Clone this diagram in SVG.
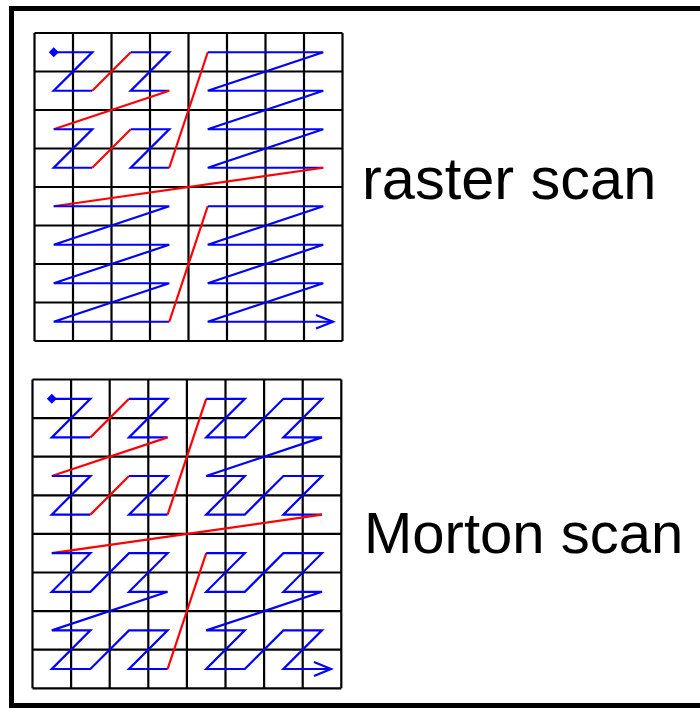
<svg xmlns="http://www.w3.org/2000/svg" width="700" height="708" viewBox="0 0 700 708">
<style>
.frame{fill:none;stroke:#000;stroke-width:5}
.grid{fill:none;stroke:#000;stroke-width:2.2}
.b{fill:none;stroke:#0000ff;stroke-width:2.2;stroke-linejoin:miter}
.r{fill:none;stroke:#ff0000;stroke-width:2.2}
.lbl{font-family:"Liberation Sans",Arial,sans-serif;fill:#000}
</style>
<rect width="700" height="708" fill="#fff"/>
<rect class="frame" x="11.5" y="8.5" width="700" height="697"/>
<g id="raster-grid">
<path class="grid" d="M34.5,33V341M73,33V341M111.5,33V341M150,33V341M188.5,33V341M227,33V341M265.5,33V341M304,33V341M342.5,33V341M34.5,33H342.5M34.5,71.5H342.5M34.5,110H342.5M34.5,148.5H342.5M34.5,187H342.5M34.5,225.5H342.5M34.5,264H342.5M34.5,302.5H342.5M34.5,341H342.5"/>
</g>
<g id="morton-grid">
<path class="grid" d="M32.5,379.5V688.3M71.1,379.5V688.3M109.7,379.5V688.3M148.3,379.5V688.3M186.9,379.5V688.3M225.5,379.5V688.3M264.1,379.5V688.3M302.7,379.5V688.3M341.3,379.5V688.3M32.5,379.5H341.3M32.5,418.1H341.3M32.5,456.7H341.3M32.5,495.3H341.3M32.5,533.9H341.3M32.5,572.5H341.3M32.5,611.1H341.3M32.5,649.7H341.3M32.5,688.3H341.3"/>
</g>
<g id="connectors">
<g id="raster-path">
<path d="M53.75,47.25L58.75,52.25L53.75,57.25L48.75,52.25Z" fill="#0000ff"/>
<path class="b" d="M53.75,52.25H92.25L53.75,90.75H92.25"/>
<path class="r" d="M92.25,90.75L130.75,52.25"/>
<path class="b" d="M130.75,52.25H169.25L130.75,90.75H169.25"/>
<path class="r" d="M169.25,90.75L53.75,129.25"/>
<path class="b" d="M53.75,129.25H92.25L53.75,167.75H92.25"/>
<path class="r" d="M92.25,167.75L130.75,129.25"/>
<path class="b" d="M130.75,129.25H169.25L130.75,167.75H169.25"/>
<path class="r" d="M169.25,167.75L207.75,52.25"/>
<path class="b" d="M207.75,52.25H323.25L207.75,90.75H323.25L207.75,129.25H323.25L207.75,167.75H323.25"/>
<path class="r" d="M323.25,167.75L53.75,206.25"/>
<path class="b" d="M53.75,206.25H169.25L53.75,244.75H169.25L53.75,283.25H169.25L53.75,321.75H169.25"/>
<path class="r" d="M169.25,321.75L207.75,206.25"/>
<path class="b" d="M207.75,206.25H323.25L207.75,244.75H323.25L207.75,283.25H323.25L207.75,321.75H333"/>
<path class="b" d="M316,315L333,321.75L316,328.5"/>
</g>
<g id="morton-path">
<path d="M51.8,393.8L56.8,398.8L51.8,403.8L46.8,398.8Z" fill="#0000ff"/>
<path class="b" d="M51.8,398.8H90.4L51.8,437.4H90.4"/>
<path class="r" d="M90.4,437.4L129,398.8"/>
<path class="b" d="M129,398.8H167.6L129,437.4H167.6"/>
<path class="r" d="M167.6,437.4L51.8,476"/>
<path class="b" d="M51.8,476H90.4L51.8,514.6H90.4"/>
<path class="r" d="M90.4,514.6L129,476"/>
<path class="b" d="M129,476H167.6L129,514.6H167.6"/>
<path class="r" d="M167.6,514.6L206.2,398.8"/>
<path class="b" d="M206.2,398.8H244.8L206.2,437.4H244.8L283.4,398.8H322L283.4,437.4H322L206.2,476H244.8L206.2,514.6H244.8L283.4,476H322L283.4,514.6H322"/>
<path class="r" d="M322,514.6L51.8,553.2"/>
<path class="b" d="M51.8,553.2H90.4L51.8,591.8H90.4L129,553.2H167.6L129,591.8H167.6L51.8,630.4H90.4L51.8,669H90.4L129,630.4H167.6L129,669H167.6"/>
<path class="r" d="M167.6,669L206.2,553.2"/>
<path class="b" d="M206.2,553.2H244.8L206.2,591.8H244.8L283.4,553.2H322L283.4,591.8H322L206.2,630.4H244.8L206.2,669H244.8L283.4,630.4H322L283.4,669H331"/>
<path class="b" d="M314,662L331,669L314,676"/>
</g>
</g>
<g id="label-raster"><text class="lbl" x="362" y="199" font-size="59.5">raster scan</text></g>
<g id="label-morton"><text class="lbl" x="364" y="553" font-size="58">Morton scan</text></g>
</svg>
